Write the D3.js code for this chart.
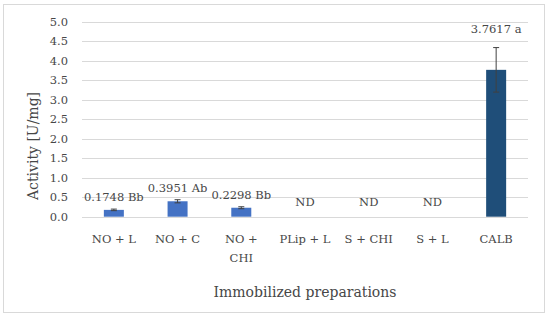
<!DOCTYPE html>
<html>
<head>
<meta charset="utf-8">
<script src="https://cdn.jsdelivr.net/npm/d3@7"></script>
<style>
  body { margin: 0; background: #fff; }
  svg text { font-family: "DejaVu Serif", serif; fill: #474747; }
</style>
</head>
<body>
<div class="chart"></div>
<script>
const categories = ["NO + L", "NO + C", "NO + CHI", "PLip + L", "S + CHI", "S + L", "CALB"];
const activity = [0.1748, 0.3951, 0.2298, null, null, null, 3.7617];
const errors = [0.02, 0.04, 0.025, null, null, null, 0.57];
const labels = ["0.1748 Bb", "0.3951 Ab", "0.2298 Bb", "ND", "ND", "ND", "3.7617 a"];
const yTicks = [0, 0.5, 1, 1.5, 2, 2.5, 3, 3.5, 4, 4.5, 5];

function init() {
    const w = 550, h = 318;
    const left = 82, right = 528, top = 21.5, bottom = 216.7;

    const svg = d3.select(".chart").append("svg")
        .attr("width", w)
        .attr("height", h);

    // outer frame
    svg.append("rect")
        .attr("x", 3.5).attr("y", 4.5)
        .attr("width", 541).attr("height", 308)
        .attr("fill", "none")
        .attr("stroke", "#d9d9d9");

    const x = d3.scaleBand().domain(categories).range([left, right]);
    const y = d3.scaleLinear().domain([0, 5]).range([bottom, top]);
    const barW = 20;

    // gridlines
    svg.append("g").selectAll("line")
        .data(yTicks)
        .enter().append("line")
        .attr("x1", left).attr("x2", right)
        .attr("y1", d => Math.round(y(d)) + 0.5)
        .attr("y2", d => Math.round(y(d)) + 0.5)
        .attr("stroke", "#d9d9d9");

    // y tick labels
    svg.append("g").selectAll("text")
        .data(yTicks)
        .enter().append("text")
        .attr("x", 68)
        .attr("y", d => y(d) + 4)
        .attr("text-anchor", "end")
        .style("font-size", "11.5px")
        .text(d => d3.format(".1f")(d));

    const data = categories.map((c, i) => ({ c, v: activity[i], e: errors[i], label: labels[i], i }));

    // bars
    svg.append("g").selectAll("rect")
        .data(data.filter(d => d.v !== null))
        .enter().append("rect")
        .attr("x", d => x(d.c) + x.bandwidth() / 2 - barW / 2)
        .attr("y", d => y(d.v))
        .attr("width", barW)
        .attr("height", d => bottom - y(d.v))
        .attr("fill", d => d.c === "CALB" ? "#1f4e79" : "#4472c4");

    // error bars
    const eb = svg.append("g").attr("stroke", "#404040").attr("stroke-width", 1);
    data.filter(d => d.v !== null).forEach(d => {
        const cx = x(d.c) + x.bandwidth() / 2;
        eb.append("line").attr("x1", cx).attr("x2", cx)
            .attr("y1", y(d.v - d.e)).attr("y2", y(d.v + d.e));
        [d.v - d.e, d.v + d.e].forEach(v => {
            eb.append("line").attr("x1", cx - 3).attr("x2", cx + 3)
                .attr("y1", y(v)).attr("y2", y(v));
        });
    });

    // value labels
    svg.append("g").selectAll("text")
        .data(data)
        .enter().append("text")
        .attr("x", d => x(d.c) + x.bandwidth() / 2)
        .attr("y", d => {
            if (d.v === null) return bottom - 11;
            if (d.c === "CALB") return y(d.v + d.e) - 15;
            return y(d.v + d.e) - 8;
        })
        .attr("text-anchor", "middle")
        .style("font-size", "11.5px")
        .text(d => d.label);

    // x category labels (wrap NO + CHI)
    const xl = svg.append("g").selectAll("text")
        .data(categories)
        .enter().append("text")
        .attr("x", d => x(d) + x.bandwidth() / 2)
        .attr("y", 243)
        .attr("text-anchor", "middle")
        .style("font-size", "11.5px");
    xl.each(function(d) {
        const t = d3.select(this);
        const lines = d === "NO + CHI" ? ["NO +", "CHI"] : [d];
        lines.forEach((l, k) => {
            t.append("tspan")
                .attr("x", x(d) + x.bandwidth() / 2)
                .attr("dy", k === 0 ? 0 : 19)
                .text(l);
        });
    });

    // axis titles
    svg.append("text")
        .attr("x", (left + right) / 2)
        .attr("y", 297)
        .attr("text-anchor", "middle")
        .style("font-size", "14px")
        .text("Immobilized preparations");

    svg.append("text")
        .attr("transform", "translate(38,146) rotate(-90)")
        .attr("text-anchor", "middle")
        .style("font-size", "14px")
        .text("Activity [U/mg]");
}

window.onload = init;
</script>
</body>
</html>
